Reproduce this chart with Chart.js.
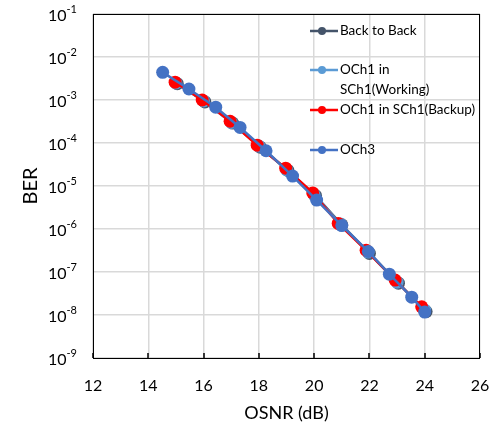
<!DOCTYPE html>
<html>
<head>
<meta charset="utf-8">
<script src="https://cdn.jsdelivr.net/npm/chart.js@4.4.1/dist/chart.umd.min.js"></script>
<style>
  html, body { margin: 0; padding: 0; background: #fff; }
  #wrap { width: 492px; height: 430px; position: relative; }
</style>
</head>
<body>
<div id="wrap"><canvas id="berChart"></canvas></div>
<script>
// series names (legend wraps the second one over two lines)
const seriesNames = ["Back to Back", "OCh1 in SCh1(Working)", "OCh1 in SCh1(Backup)", "OCh3"];
const seriesColors = ["#44546A", "#5B9BD5", "#FF0000", "#4472C4"];

// OSNR (dB) and BER
const b2bOsnr = [15.05, 16.05, 17.05, 18.05, 19.05, 20.05, 21.0, 22.0, 23.05, 24.05];
const b2bBer = [2.4e-3, 9.0e-4, 2.9e-4, 8.0e-5, 2.3e-5, 6.0e-6, 1.25e-6, 2.7e-7, 5.5e-8, 1.2e-8];

const workOsnr = [15.0, 16.0, 17.0, 18.0, 19.0, 20.0, 20.95, 21.95, 23.0, 24.0];
const workBer = [2.5e-3, 9.5e-4, 3.0e-4, 8.5e-5, 2.4e-5, 6.2e-6, 1.3e-6, 2.9e-7, 5.8e-8, 1.3e-8];

const backupOsnr = [14.97, 15.95, 16.96, 17.94, 18.97, 19.95, 20.87, 21.88, 22.93, 23.89];
const backupBer = [2.6e-3, 1.0e-3, 3.2e-4, 8.9e-5, 2.6e-5, 6.9e-6, 1.35e-6, 3.2e-7, 6.5e-8, 1.55e-8];

const och3Osnr = [14.52, 15.47, 16.44, 17.32, 18.26, 19.22, 20.09, 21.0, 21.96, 22.72, 23.53, 24.0];
const och3Ber = [4.4e-3, 1.8e-3, 6.8e-4, 2.3e-4, 6.6e-5, 1.7e-5, 4.7e-6, 1.2e-6, 3.0e-7, 8.9e-8, 2.6e-8, 1.17e-8];

// axes
const xTicks = [12, 14, 16, 18, 20, 22, 24, 26];
const yExponents = [-1, -2, -3, -4, -5, -6, -7, -8, -9];

const FONT = "Lato, 'Open Sans', sans-serif";

function toPoints(xs, ys) {
  return xs.map((x, i) => ({ x: x, y: ys[i] }));
}

const seriesData = [
  toPoints(b2bOsnr, b2bBer),
  toPoints(workOsnr, workBer),
  toPoints(backupOsnr, backupBer),
  toPoints(och3Osnr, och3Ber),
];
// draw order: OCh3 on top, then backup, working, back to back
const drawOrder = [3, 2, 1, 0];

const datasets = seriesNames.map((name, i) => ({
  label: name,
  data: seriesData[i],
  borderColor: seriesColors[i],
  backgroundColor: seriesColors[i],
  pointBackgroundColor: seriesColors[i],
  pointBorderColor: seriesColors[i],
  borderWidth: 2.5,
  pointRadius: 6.5,
  pointBorderWidth: 0,
  tension: 0,
  order: drawOrder[i],
}));

// frame around plot, y labels with superscripts, and the in-plot legend
const decorPlugin = {
  id: "decor",
  afterDraw(chart) {
    const { ctx, chartArea } = chart;
    const xScale = chart.scales.x;
    const yScale = chart.scales.y;
    ctx.save();

    ctx.strokeStyle = "#000";
    ctx.lineWidth = 1;
    ctx.strokeRect(chartArea.left + 0.5, chartArea.top + 0.5,
      chartArea.right - chartArea.left - 1, chartArea.bottom - chartArea.top);

    // small inward tick marks on the bottom axis
    ctx.lineWidth = 1.5;
    ctx.beginPath();
    xTicks.forEach((v) => {
      const px = Math.round(xScale.getPixelForValue(v));
      ctx.moveTo(px, chartArea.bottom);
      ctx.lineTo(px, chartArea.bottom - 5);
    });
    ctx.stroke();

    // y tick labels 10^n
    ctx.fillStyle = "#000";
    ctx.textBaseline = "middle";
    yExponents.forEach((e) => {
      const py = yScale.getPixelForValue(Math.pow(10, e));
      const expText = "-" + Math.abs(e);
      ctx.font = "11px " + FONT;
      const expW = ctx.measureText(expText).width;
      const right = 77;
      ctx.textAlign = "left";
      ctx.fillText(expText, right - expW, py - 5);
      ctx.font = "16px " + FONT;
      ctx.textAlign = "right";
      ctx.fillText("10", right - expW, py + 2);
    });

    // legend
    const legendRows = [
      { lines: ["Back to Back"], y: 31 },
      { lines: ["OCh1 in", "SCh1(Working)"], y: 70 },
      { lines: ["OCh1 in SCh1(Backup)"], y: 110 },
      { lines: ["OCh3"], y: 150 },
    ];
    ctx.font = "13.5px " + FONT;
    ctx.textAlign = "left";
    ctx.textBaseline = "middle";
    legendRows.forEach((row, i) => {
      ctx.strokeStyle = seriesColors[i];
      ctx.lineWidth = 2.5;
      ctx.beginPath();
      ctx.moveTo(310, row.y);
      ctx.lineTo(338, row.y);
      ctx.stroke();
      ctx.fillStyle = seriesColors[i];
      ctx.beginPath();
      ctx.arc(322, row.y, 4, 0, Math.PI * 2);
      ctx.fill();
      ctx.fillStyle = "#000";
      row.lines.forEach((t, k) => ctx.fillText(t, 340, row.y + k * 20));
    });
    ctx.restore();
  },
};

new Chart(document.getElementById("berChart"), {
  type: "line",
  data: { datasets: datasets },
  options: {
    responsive: true,
    maintainAspectRatio: false,
    animation: false,
    layout: { padding: { top: 14, right: 12, left: 0, bottom: 0 } },
    plugins: {
      legend: { display: false },
      tooltip: { enabled: false },
    },
    scales: {
      x: {
        type: "linear",
        min: 12,
        max: 26,
        afterBuildTicks: (scale) => {
          scale.ticks = xTicks.map((v) => ({ value: v }));
        },
        afterFit: (scale) => {
          scale.height = 72;
          scale.paddingLeft = 0;
          scale.paddingRight = 0;
        },
        grid: { color: "#D9D9D9", lineWidth: 1.5, drawTicks: false },
        border: { display: false },
        ticks: {
          padding: 18,
          color: "#000",
          font: { family: FONT, size: 16 },
          maxRotation: 0,
        },
        title: {
          display: true,
          text: "OSNR (dB)",
          color: "#000",
          font: { family: FONT, size: 18 },
          padding: { top: 0, bottom: 6 },
        },
      },
      y: {
        type: "logarithmic",
        min: 1e-9,
        max: 1e-1,
        afterBuildTicks: (scale) => {
          scale.ticks = yExponents.map((e) => ({ value: Math.pow(10, e) }));
        },
        afterFit: (scale) => {
          scale.width = 93;
          scale.paddingTop = 0;
          scale.paddingBottom = 0;
        },
        grid: { color: "#D9D9D9", lineWidth: 1.5, drawTicks: false },
        border: { display: false },
        ticks: { display: false },
        title: {
          display: true,
          text: "BER",
          color: "#000",
          font: { family: FONT, size: 20 },
          padding: { top: 19, bottom: 0 },
        },
      },
    },
  },
  plugins: [decorPlugin],
});
</script>
</body>
</html>
